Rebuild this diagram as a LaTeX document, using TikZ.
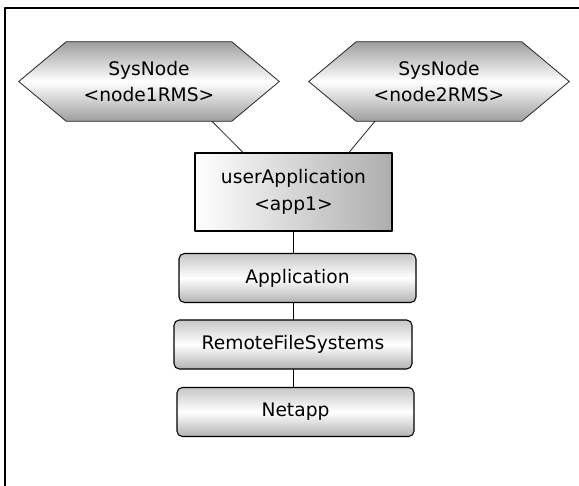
\documentclass[tikz,border=0pt]{standalone}
\usepackage{fontspec}
\setmainfont{DejaVu Sans}
\usetikzlibrary{calc,backgrounds}

\tikzset{
  sysnode/.style={rectangle,inner sep=0pt,minimum width=165*0.75pt,minimum height=79*0.75pt,align=center},
  appbox/.style={rectangle,draw,line width=0.8pt,inner sep=0pt,minimum width=197*0.75pt,minimum height=78*0.75pt,align=center,left color=white,right color=black!32},
  resbox/.style={rectangle,draw,line width=0.8pt,rounded corners=4pt,inner sep=0pt,minimum width=237*0.75pt,minimum height=49*0.75pt,top color=black!22,bottom color=black!30,middle color=white},
  hexshade/.style={draw=black!85,line width=0.6pt,top color=black!38,bottom color=black!38,middle color=white}
}

\begin{document}
\begin{tikzpicture}[x=0.75pt,y=-0.75pt,line cap=round,line join=round,font=\fontsize{14}{20}\selectfont]
\useasboundingbox (0,0) rectangle (579,486);
% frame
\draw[line width=1.1pt] (5,486) -- (5,8) -- (579,8);
% nodes
\node[sysnode] (sys1) at (149,81.5) {SysNode\\<node1RMS>};
\node[sysnode] (sys2) at (439,81.5) {SysNode\\<node2RMS>};
\node[appbox] (app) at (293.5,192) {userApplication\\<app1>};
\node[resbox] (appl) at (297.5,278) {Application};
\node[resbox,minimum width=238*0.75pt] (rfs) at (293,344.5) {RemoteFileSystems};
\node[resbox] (netapp) at (295.5,412) {Netapp};
% hexagons behind the text
\begin{scope}[on background layer]
\foreach \s in {sys1,sys2}
  \draw[hexshade] (\s.north west) -- (\s.north east) -- ($(\s.east)+(47.5,0)$) -- (\s.south east)
    -- (\s.south west) -- ($(\s.west)+(-47.5,0)$) -- cycle;
\end{scope}
% connectors
\draw[black!85,line width=0.6pt] ($(sys1.south)+(63,0)$) -- ($(app.north)+(-50.5,0)$);
\draw[black!85,line width=0.6pt] ($(sys2.south)+(-64,0)$) -- ($(app.north)+(55.5,0)$);
\draw[line width=0.8pt] (app.south) -- (app.south |- appl.north);
\draw[line width=0.8pt] (app.south |- appl.south) -- (app.south |- rfs.north);
\draw[line width=0.8pt] (app.south |- rfs.south) -- (app.south |- netapp.north);
\end{tikzpicture}
\end{document}
